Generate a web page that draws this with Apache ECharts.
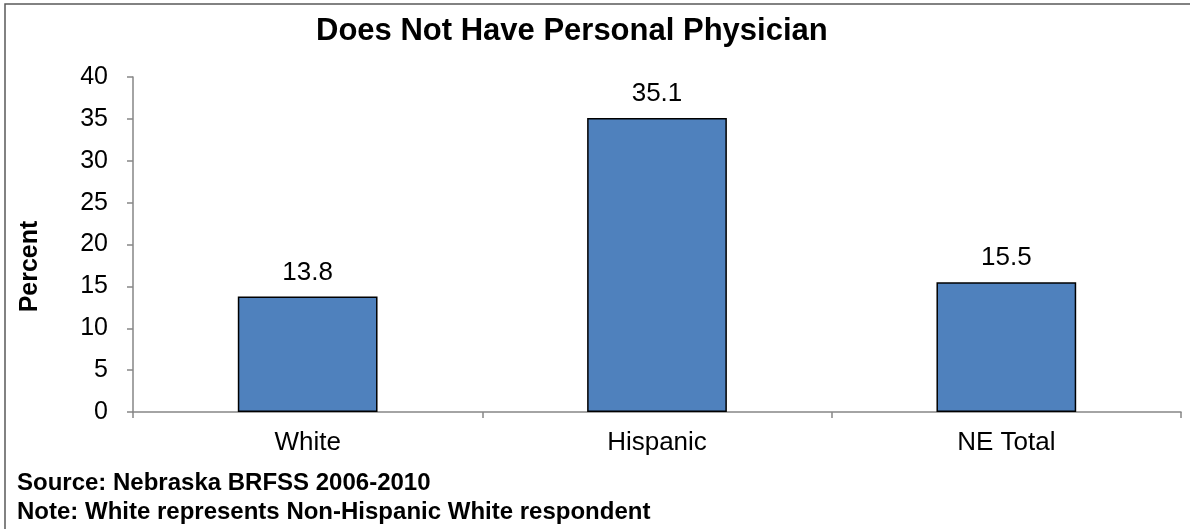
<!DOCTYPE html>
<html>
<head>
<meta charset="utf-8">
<script src="https://cdn.jsdelivr.net/npm/echarts@6/dist/echarts.min.js"></script>
<style>
  html, body { margin: 0; padding: 0; background: #fff; }
  #chart { width: 1190px; height: 529px; }
</style>
</head>
<body>
<div id="chart"></div>
<script>
(function () {
  const categories = ["White", "Hispanic", "NE Total"];
  const values = [13.8, 35.1, 15.5];
  const yTicks = [0, 5, 10, 15, 20, 25, 30, 35, 40];

  const titleText = "Does Not Have Personal Physician";
  const notes = [
    "Source: Nebraska BRFSS 2006-2010",
    "Note: White represents Non-Hispanic White respondent",
  ];

  const font = "Arial, 'Liberation Sans', sans-serif";
  const axisColor = "#868686";

  const chart = echarts.init(document.getElementById("chart"));

  const option = {
    animation: false,
    backgroundColor: "#fff",
    title: {
      text: titleText,
      left: 311,
      top: 11,
      textStyle: { fontFamily: font, fontSize: 31, fontWeight: "bold", color: "#000" },
    },
    grid: { left: 133, right: 9, top: 77, bottom: 117 },
    xAxis: {
      type: "category",
      data: categories,
      axisLine: { lineStyle: { color: axisColor, width: 1.5 } },
      axisTick: { show: true, length: 6, lineStyle: { color: axisColor, width: 1.5 } },
      axisLabel: { color: "#000", fontFamily: font, fontSize: 26, margin: 18 },
    },
    yAxis: {
      type: "value",
      min: yTicks[0],
      max: yTicks[yTicks.length - 1],
      interval: 5,
      name: "Percent",
      nameLocation: "middle",
      nameGap: 90,
      nameTextStyle: {
        fontFamily: font,
        fontSize: 25,
        fontWeight: "bold",
        color: "#000",
        // the label sits a little below the middle of the axis
        padding: [0, 44, 0, 0],
      },
      axisLine: { show: true, lineStyle: { color: axisColor, width: 1.5 } },
      axisTick: { show: true, length: 6, lineStyle: { color: axisColor, width: 1.5 } },
      axisLabel: { color: "#000", fontFamily: font, fontSize: 25, margin: 25 },
      splitLine: { show: false },
    },
    series: [
      {
        type: "bar",
        data: values,
        barWidth: "40%",
        itemStyle: { color: "#4F81BD", borderColor: "#000", borderWidth: 1.5 },
        label: {
          show: true,
          position: "top",
          distance: 11,
          color: "#000",
          fontFamily: font,
          fontSize: 26,
          formatter: (p) => p.value.toFixed(1),
        },
      },
    ],
    graphic: [
      {
        type: "rect",
        shape: { x: 5, y: 4, width: 1400, height: 800 },
        style: { fill: "none", stroke: "#595959", lineWidth: 1.5 },
        silent: true,
      },
      {
        type: "text",
        left: 17,
        top: 471,
        style: { text: notes[0], font: "bold 24px " + font, fill: "#000" },
      },
      {
        type: "text",
        left: 17,
        top: 500,
        style: { text: notes[1], font: "bold 24px " + font, fill: "#000" },
      },
    ],
  };

  chart.setOption(option);

  window.addEventListener("resize", () => {
    chart.resize();
  });
})();
</script>
</body>
</html>
